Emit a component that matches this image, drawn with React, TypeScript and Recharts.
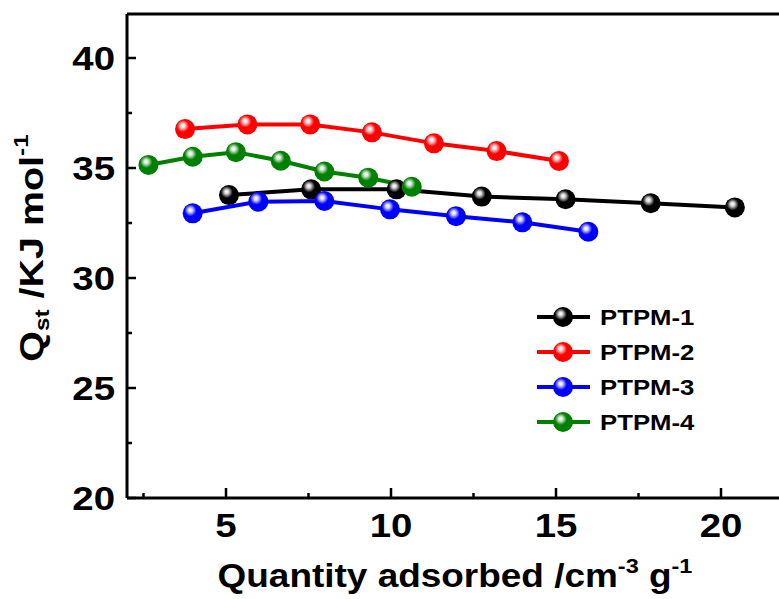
import React from 'react';
import { LineChart, Line, XAxis, YAxis, ReferenceLine, Legend } from 'recharts';

// ---- data ----
const seriesNames = ['PTPM-1', 'PTPM-2', 'PTPM-3', 'PTPM-4'];
const seriesColors = ['#000000', '#ff0000', '#0000ff', '#008000'];

const ptpm1X = [5.09, 7.58, 10.17, 12.75, 15.29, 17.87, 20.42];
const ptpm1Y = [33.77, 34.03, 34.03, 33.7, 33.58, 33.4, 33.21];
const ptpm2X = [3.76, 5.65, 7.55, 9.42, 11.3, 13.2, 15.09];
const ptpm2Y = [36.77, 36.98, 36.98, 36.62, 36.12, 35.77, 35.32];
const ptpm3X = [3.99, 5.98, 7.98, 9.97, 11.97, 13.98, 15.98];
const ptpm3Y = [32.94, 33.47, 33.5, 33.12, 32.81, 32.53, 32.1];
const ptpm4X = [2.65, 3.99, 5.3, 6.66, 7.98, 9.31, 10.63];
const ptpm4Y = [35.14, 35.51, 35.72, 35.33, 34.84, 34.56, 34.15];

const xTicks = [2.5, 5, 7.5, 10, 12.5, 15, 17.5, 20];
const yTicks = [20, 22.5, 25, 27.5, 30, 32.5, 35, 37.5, 40];
const xDomain = [2, 22];
const yDomain = [20, 42];

const xTitle = 'Quantity adsorbed /cm';
const xTitleSup1 = '-3';
const xTitleMid = ' g';
const xTitleSup2 = '-1';
const yTitleMain = 'Q';
const yTitleSub = 'st';
const yTitleMid = ' /KJ mol';
const yTitleSup = '-1';

const toRows = (xs: number[], ys: number[]) => xs.map((x, i) => ({ x, y: ys[i] }));
const seriesData = [
  toRows(ptpm1X, ptpm1Y),
  toRows(ptpm2X, ptpm2Y),
  toRows(ptpm3X, ptpm3Y),
  toRows(ptpm4X, ptpm4Y),
];

const FONT = '"Liberation Sans", Arial, sans-serif';

const HL = () => (
  <defs>
    <radialGradient id="ballHL" cx="0.4" cy="0.37" r="0.5" fx="0.38" fy="0.33">
      <stop offset="0" stopColor="#ffffff" stopOpacity={1} />
      <stop offset="0.2" stopColor="#ffffff" stopOpacity={0.85} />
      <stop offset="0.6" stopColor="#ffffff" stopOpacity={0} />
      <stop offset="1" stopColor="#ffffff" stopOpacity={0} />
    </radialGradient>
  </defs>
);

const Ball = ({ cx, cy, color }: { cx: number; cy: number; color: string }) => (
  <g>
    <HL />
    <circle cx={cx} cy={cy} r={10} fill={color} />
    <circle cx={cx} cy={cy} r={10} fill="url(#ballHL)" />
  </g>
);

const isMajor = (v: number) => Math.abs(v % 5) < 1e-6;

const TICK_FS = 34;
const TICK_SX = 1.13;

const XTick = (props: any) => {
  const { x, y, payload } = props;
  const v = payload.value;
  const major = isMajor(v);
  return (
    <g>
      <line x1={x} x2={x} y1={y} y2={y - (major ? 10 : 5)} stroke="#000" strokeWidth={2.5} />
      {major && (
        <text
          transform={`translate(${x},${y + 39}) scale(${TICK_SX},1)`}
          textAnchor="middle"
          fontFamily={FONT}
          fontWeight="bold"
          fontSize={TICK_FS}
          fill="#000"
        >
          {v}
        </text>
      )}
    </g>
  );
};

const YTick = (props: any) => {
  const { x, y, payload } = props;
  const v = payload.value;
  const major = isMajor(v);
  return (
    <g>
      <line x1={x} x2={x + (major ? 9 : 5)} y1={y} y2={y} stroke="#000" strokeWidth={2.5} />
      {major && (
        <text
          transform={`translate(${x - 12},${y + 12}) scale(${TICK_SX},1)`}
          textAnchor="end"
          fontFamily={FONT}
          fontWeight="bold"
          fontSize={TICK_FS}
          fill="#000"
        >
          {v}
        </text>
      )}
    </g>
  );
};

const XTitle = (props: any) => {
  const vb = props.viewBox || { x: 127, width: 660, y: 498 };
  const cx = vb.x + vb.width / 2 - 2;
  return (
    <text
      transform={`translate(${cx},587) scale(1.12,1)`}
      textAnchor="middle"
      fontFamily={FONT}
      fontWeight="bold"
      fontSize={33}
      fill="#000"
    >
      <tspan>{xTitle}</tspan>
      <tspan dy={-14} fontSize={21}>{xTitleSup1}</tspan>
      <tspan dy={14}>{xTitleMid}</tspan>
      <tspan dy={-14} fontSize={21}>{xTitleSup2}</tspan>
    </text>
  );
};

const YTitle = (props: any) => {
  const vb = props.viewBox || { y: 14, height: 484 };
  const cy = vb.y + vb.height / 2 - 8;
  return (
    <text
      transform={`translate(43,${cy}) rotate(-90) scale(1.16,1)`}
      textAnchor="middle"
      fontFamily={FONT}
      fontWeight="bold"
      fontSize={34}
      fill="#000"
    >
      <tspan>{yTitleMain}</tspan>
      <tspan dy={6} fontSize={21}>{yTitleSub}</tspan>
      <tspan dy={-6}>{yTitleMid}</tspan>
      <tspan dy={-15} fontSize={21}>{yTitleSup}</tspan>
    </text>
  );
};

const renderLegend = () => (
  <svg width={200} height={140} style={{ display: 'block', overflow: 'visible' }}>
    {seriesNames.map((name, i) => {
      const cy = 17 + i * 35;
      const color = seriesColors[i];
      return (
        <g key={name}>
          <line x1={7} x2={60} y1={cy} y2={cy} stroke={color} strokeWidth={4} />
          <Ball cx={33} cy={cy} color={color} />
          <text
            transform={`translate(70,${cy + 8}) scale(1.12,1)`}
            fontFamily={FONT}
            fontWeight="bold"
            fontSize={23}
            fill="#000"
          >
            {name}
          </text>
        </g>
      );
    })}
  </svg>
);

export default function App() {
  return (
    <div
      style={{
        position: 'fixed',
        left: 0,
        top: 0,
        width: 779,
        height: 599,
        overflow: 'hidden',
        background: '#fff',
      }}
    >
      <LineChart
        width={800}
        height={599}
        margin={{ top: 14, right: 13, bottom: 21, left: 0 }}
      >
        <XAxis
          type="number"
          dataKey="x"
          domain={xDomain}
          ticks={xTicks}
          interval={0}
          allowDataOverflow
          tickSize={0}
          tickMargin={0}
          tickLine={false}
          axisLine={{ stroke: '#000', strokeWidth: 3 }}
          tick={XTick}
          height={80}
          label={{ content: XTitle } as any}
        />
        <YAxis
          type="number"
          dataKey="y"
          domain={yDomain}
          ticks={yTicks}
          interval={0}
          allowDataOverflow
          tickSize={0}
          tickMargin={0}
          tickLine={false}
          axisLine={{ stroke: '#000', strokeWidth: 3 }}
          tick={YTick}
          width={127}
          label={{ content: YTitle } as any}
        />
        <ReferenceLine y={42} stroke="#000" strokeWidth={3} />
        <ReferenceLine x={22} stroke="#000" strokeWidth={3} />
        {seriesData.map((rows, i) => (
          <Line
            key={seriesNames[i]}
            data={rows}
            dataKey="y"
            name={seriesNames[i]}
            type="linear"
            stroke={seriesColors[i]}
            strokeWidth={4}
            isAnimationActive={false}
            dot={(p: any) => (
              <Ball key={`${seriesNames[i]}-${p.index}`} cx={p.cx} cy={p.cy} color={seriesColors[i]} />
            )}
            activeDot={false}
          />
        ))}
        <Legend
          layout="vertical"
          align="center"
          verticalAlign="middle"
          content={renderLegend}
          wrapperStyle={{ left: 530, top: 300, width: 200, height: 140 }}
        />
      </LineChart>
    </div>
  );
}
